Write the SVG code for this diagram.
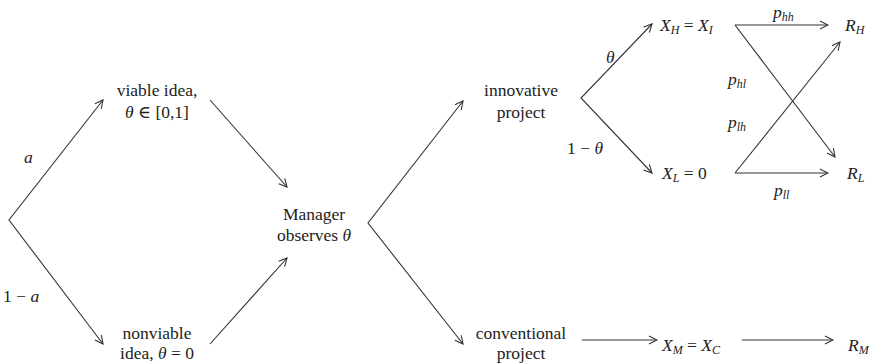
<svg xmlns="http://www.w3.org/2000/svg" width="874" height="364" viewBox="0 0 874 364">
<style>
text{font-family:"Liberation Serif","DejaVu Serif",serif;font-size:17.5px;fill:#222}
.m{font-style:italic}
.s{font-size:12px;font-style:italic}
.n{text-anchor:middle}
.c{stroke:#333;stroke-width:1.1;fill:none}
</style>
<defs>
<marker id="a" markerWidth="10" markerHeight="10" refX="9" refY="5" orient="auto-start-reverse" markerUnits="userSpaceOnUse">
<path d="M1,1 L9,5 L1,9" fill="none" stroke="#333" stroke-width="1.1"/>
</marker>
</defs>
<rect width="874" height="364" fill="#fff"/>
<g id="connectors">
<polyline class="c" points="103,100 9,220 103,344" marker-start="url(#a)" marker-end="url(#a)"/>
<line class="c" x1="210" y1="100" x2="287" y2="187" marker-end="url(#a)"/>
<line class="c" x1="210" y1="344" x2="287" y2="258" marker-end="url(#a)"/>
<polyline class="c" points="463,101 368,223 463,344" marker-start="url(#a)" marker-end="url(#a)"/>
<polyline class="c" points="652,24 581,98 652,173" marker-start="url(#a)" marker-end="url(#a)"/>
<line class="c" x1="735" y1="25" x2="828" y2="25" marker-end="url(#a)"/>
<line class="c" x1="735" y1="25" x2="835" y2="157" marker-end="url(#a)"/>
<line class="c" x1="735" y1="173" x2="840" y2="42" marker-end="url(#a)"/>
<line class="c" x1="735" y1="173" x2="828" y2="173" marker-end="url(#a)"/>
<line class="c" x1="582" y1="340" x2="657" y2="340" marker-end="url(#a)"/>
<line class="c" x1="742" y1="340" x2="833" y2="340" marker-end="url(#a)"/>
<text class="m" x="24" y="163">a</text>
<text x="3" y="302">1 − <tspan class="m">a</tspan></text>
<text class="m" x="606" y="63">θ</text>
<text x="567" y="154">1 − <tspan class="m">θ</tspan></text>
<text class="m" x="773" y="18">p<tspan class="s" dy="3">hh</tspan></text>
<text class="m" x="728" y="85">p<tspan class="s" dy="3">hl</tspan></text>
<text class="m" x="728" y="128">p<tspan class="s" dy="3">lh</tspan></text>
<text class="m" x="774" y="196">p<tspan class="s" dy="3">ll</tspan></text>
</g>
<g id="viable"><text class="n" x="157" y="96">viable idea,</text><text class="n" x="157" y="118"><tspan class="m">θ</tspan> ∈ [0,1]</text></g>
<g id="nonviable"><text class="n" x="157" y="339">nonviable</text><text class="n" x="157" y="359">idea, <tspan class="m">θ</tspan> = 0</text></g>
<g id="manager"><text class="n" x="314" y="220">Manager</text><text class="n" x="314" y="241">observes <tspan class="m">θ</tspan></text></g>
<g id="innovative"><text class="n" x="521" y="96">innovative</text><text class="n" x="521" y="118">project</text></g>
<g id="conventional"><text class="n" x="521" y="339">conventional</text><text class="n" x="521" y="359">project</text></g>
<g id="XH"><text class="m" x="660" y="31">X<tspan class="s" dy="3">H</tspan><tspan dy="-3" font-style="normal"> = </tspan>X<tspan class="s" dy="3">I</tspan></text></g>
<g id="XL"><text class="m" x="662" y="179">X<tspan class="s" dy="3">L</tspan><tspan dy="-3" font-style="normal"> = 0</tspan></text></g>
<g id="XM"><text class="m" x="662" y="351">X<tspan class="s" dy="3">M</tspan><tspan dy="-3" font-style="normal"> = </tspan>X<tspan class="s" dy="3">C</tspan></text></g>
<g id="RH"><text class="m" x="845" y="31">R<tspan class="s" dy="3">H</tspan></text></g>
<g id="RL"><text class="m" x="847" y="179">R<tspan class="s" dy="3">L</tspan></text></g>
<g id="RM"><text class="m" x="848" y="351">R<tspan class="s" dy="3">M</tspan></text></g>
</svg>
